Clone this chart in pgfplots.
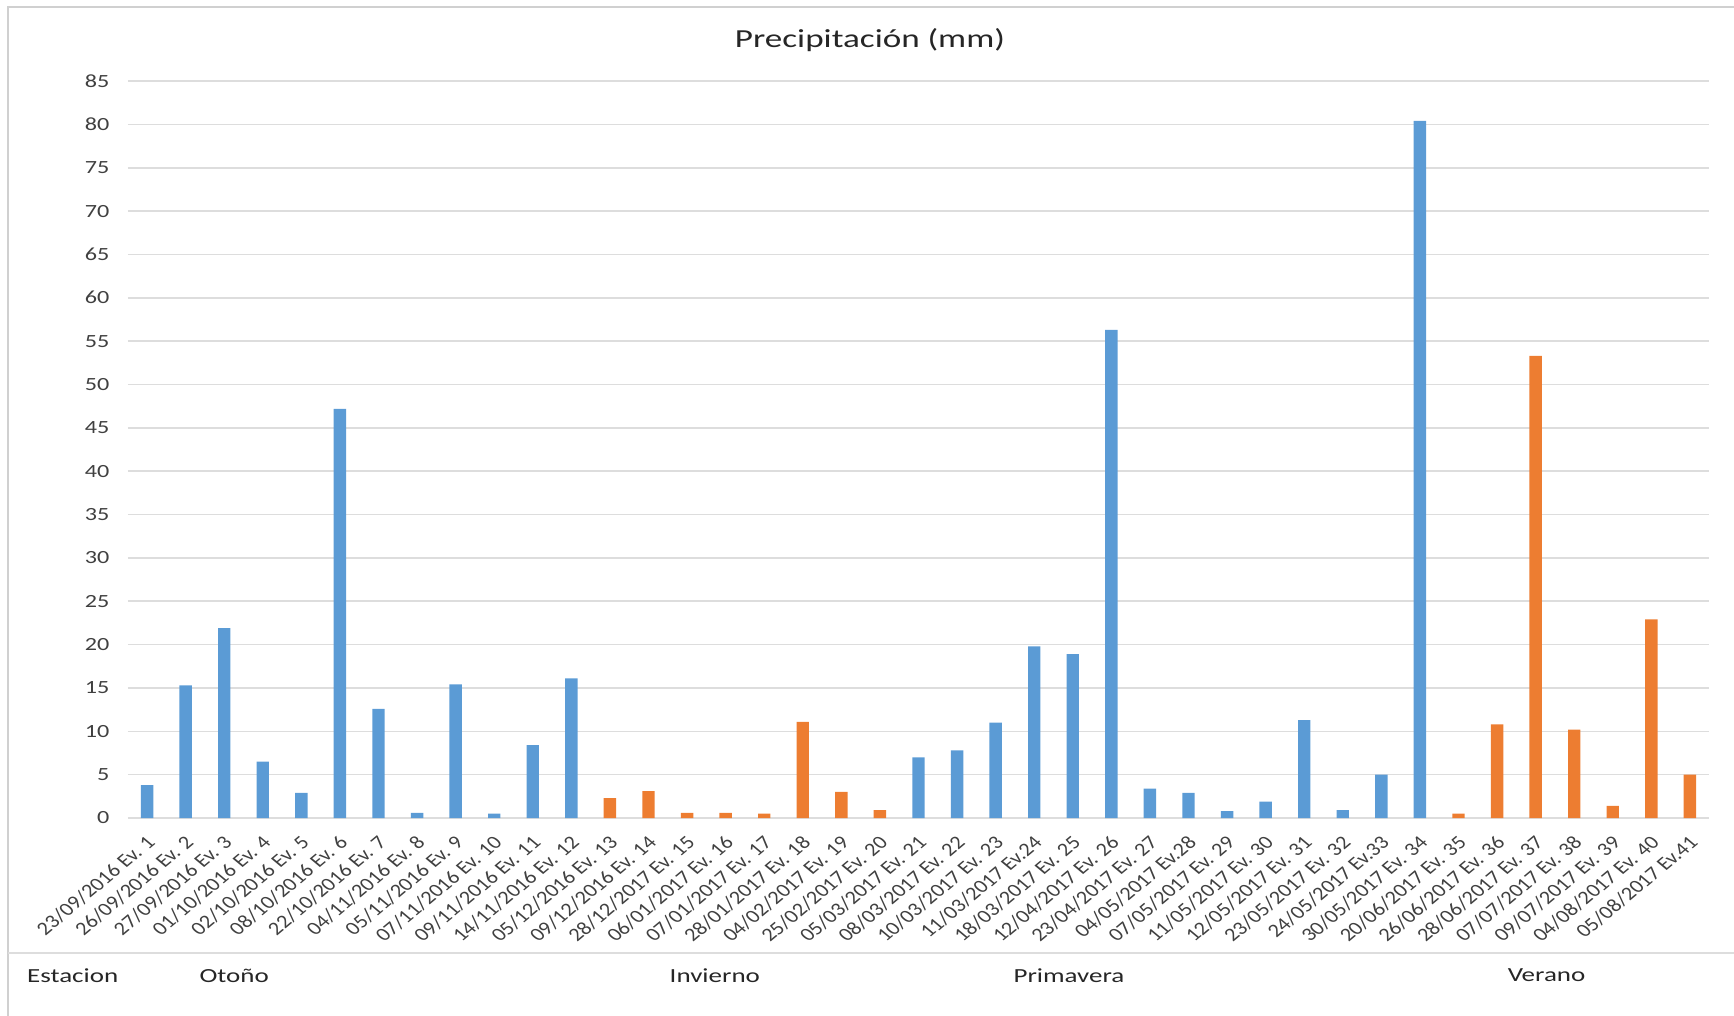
\documentclass[border=0pt]{standalone}
\usepackage{pgfplots}
\pgfplotsset{compat=1.18}
\usepackage{fontspec}
\setmainfont{Carlito}
\definecolor{cblue}{HTML}{5B9BD5}
\definecolor{corange}{HTML}{ED7D31}
\definecolor{cgrid}{HTML}{DDDDDD}
\definecolor{cframe}{HTML}{D0D0D0}
\definecolor{ctext}{HTML}{404040}
\begin{document}
\begin{tikzpicture}
\path[use as bounding box] (0,0) rectangle (867pt,-508pt);
\draw[cframe, line width=1.2pt] (4pt,-508pt) -- (4pt,-3.5pt) -- (867pt,-3.5pt);
\draw[cgrid, line width=1.2pt] (4pt,-476.5pt) -- (867pt,-476.5pt);
\node[xscale=1.35, inner sep=0pt, font=\fontsize{13}{15}\selectfont, text=black!85] at (435pt,-19.9pt) {Precipitación (mm)};
\begin{scope}[every node/.style={anchor=west, inner sep=0pt, xscale=1.35, font=\fontsize{10}{12}\selectfont, text=black!85}]
\node at (13.3pt,-487.7pt) {Estacion};
\node at (99.5pt,-487.7pt) {Otoño};
\node at (334.6pt,-487.7pt) {Invierno};
\node at (506.5pt,-487.7pt) {Primavera};
\node at (753.6pt,-487.7pt) {Verano};
\end{scope}
\begin{axis}[
  at={(63.9pt,-409pt)}, anchor=south west,
  scale only axis, width=790.7pt, height=368.5pt,
  xmin=-0.5, xmax=40.5, ymin=0, ymax=85,
  ytick={0,5,...,85},
  xtick={0,...,40},
  /pgf/number format/assume math mode=true,
  xticklabels={23/09/2016 Ev. 1,26/09/2016 Ev. 2,27/09/2016 Ev. 3,01/10/2016 Ev. 4,02/10/2016 Ev. 5,08/10/2016 Ev. 6,22/10/2016 Ev. 7,04/11/2016 Ev. 8,05/11/2016 Ev. 9,07/11/2016 Ev. 10,09/11/2016 Ev. 11,14/11/2016 Ev. 12,05/12/2016 Ev. 13,09/12/2016 Ev. 14,28/12/2017 Ev. 15,06/01/2017 Ev. 16,07/01/2017 Ev. 17,28/01/2017 Ev. 18,04/02/2017 Ev. 19,25/02/2017 Ev. 20,05/03/2017 Ev. 21,08/03/2017 Ev. 22,10/03/2017 Ev. 23,11/03/2017 Ev.24,18/03/2017 Ev. 25,12/04/2017 Ev. 26,23/04/2017 Ev. 27,04/05/2017 Ev.28,07/05/2017 Ev. 29,11/05/2017 Ev. 30,12/05/2017 Ev. 31,23/05/2017 Ev. 32,24/05/2017 Ev.33,30/05/2017 Ev. 34,20/06/2017 Ev. 35,26/06/2017 Ev. 36,28/06/2017 Ev. 37,07/07/2017 Ev. 38,09/07/2017 Ev. 39,04/08/2017 Ev. 40,05/08/2017 Ev.41},
  axis line style={draw=none},
  major tick length=0pt,
  ymajorgrids, grid style={cgrid, line width=0.8pt},
  ybar, bar width=6.2pt, bar shift=0pt,
  yticklabel style={anchor=east, inner sep=0pt, xshift=-9pt, xscale=1.3, font=\fontsize{9.3}{10}\selectfont, text=ctext},
  xticklabel style={anchor=north east, inner sep=0pt, xshift=-1pt, yshift=-8pt, xscale=1.2, rotate=45, font=\fontsize{9.4}{10}\selectfont, text=ctext},
]
\addplot[fill=cblue, draw=none] coordinates {
(0,3.8) (1,15.3) (2,21.9) (3,6.5) (4,2.9) (5,47.2) (6,12.6) (7,0.6) (8,15.4) (9,0.5) (10,8.4) (11,16.1)
(20,7.0) (21,7.8) (22,11.0) (23,19.8) (24,18.9) (25,56.3) (26,3.4) (27,2.9) (28,0.8) (29,1.9) (30,11.3) (31,0.9) (32,5.0) (33,80.4)
};
\addplot[fill=corange, draw=none] coordinates {
(12,2.3) (13,3.1) (14,0.6) (15,0.6) (16,0.5) (17,11.1) (18,3.0) (19,0.9)
(34,0.5) (35,10.8) (36,53.3) (37,10.2) (38,1.4) (39,22.9) (40,5.0)
};
\end{axis}
\end{tikzpicture}
\end{document}
